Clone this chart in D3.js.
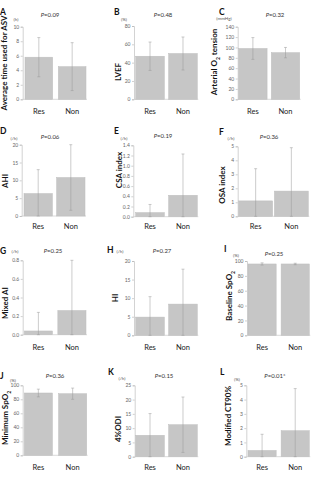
<!DOCTYPE html>
<html><head><meta charset="utf-8">
<script src="https://cdn.jsdelivr.net/npm/d3@7"></script>
<style>body{margin:0;background:#fff}svg{display:block}</style>
</head><body>
<svg id="c" width="311" height="479"></svg>
<script>
const categories = ["Res", "Non"];
const panelIds = ["A","B","C","D","E","F","G","H","I","J","K","L"];
const yLabels = ["Average time used for ASV","LVEF","Arterial O|2| tension","AHI","CSA index","OSA index","Mixed AI","HI","Baseline SpO|2|","Minimum SpO|2|","4%ODI","Modified CT90%"];
const units = ["(h)","(%)","(mmHg)","(/h)","(/h)","(/h)","(/h)","(/h)","(%)","(%)","(/h)","(%)"];
const pValues = ["0.09","0.48","0.32","0.06","0.19","0.36","0.25","0.27","0.25","0.36","0.15","0.01*"];
const resMeans = [5.8, 47, 98, 6.3, 0.08, 1.1, 0.04, 4.9, 96, 89, 7.5, 0.44];
const nonMeans = [4.5, 50, 90, 10.8, 0.42, 1.8, 0.26, 8.4, 96, 88, 11.2, 1.82];
const resSD = [2.7, 15.5, 21, 6.7, 0.16, 2.3, 0.2, 5.5, 1.5, 5.5, 7.6, 1.13];
const nonSD = [3.3, 18, 10, 9.2, 0.81, 3.1, 0.56, 9.4, 1, 8, 9.7, 2.95];
const yMax = [10, 80, 140, 20, 1.4, 5, 0.8, 20, 100, 100, 25, 5];
const tickStep = [2, 20, 20, 5, 0.2, 1, 0.2, 5, 20, 20, 5, 1];
const tickDecimals = [0,0,0,0,1,0,1,0,0,0,0,0];

// layout (pixel geometry per panel)
const layout = [
 {ax:22.7, yTop:26.7, yBot:99.3, b0:25, b1:86, pad:0.17, catY:114, let:[0,15], unit:[16,21], p:[50,17], yl:[7,63]},
 {ax:134, yTop:26, yBot:99.3, b0:135.7, b1:197.3, pad:0.13, catY:114, let:[114,15], unit:[124,21], p:[163,17], yl:[121,72]},
 {ax:237.7, yTop:26.7, yBot:99.3, b0:238.7, b1:299.7, pad:0.13, catY:114, let:[219,15], unit:[224,20], p:[275,17], yl:[217,62]},
 {ax:21.7, yTop:144.7, yBot:216, b0:24, b1:85, pad:0.13, catY:229, let:[0,134], unit:[14,140], p:[50,139], yl:[8,181]},
 {ax:133.3, yTop:145.3, yBot:216.7, b0:135.7, b1:197.3, pad:0.13, catY:229, let:[114,134], unit:[124,140], p:[163,138], yl:[122,170]},
 {ax:237.7, yTop:146.3, yBot:216.3, b0:238.7, b1:308.3, pad:0.05, catY:229, let:[219,135], unit:[231,140], p:[269,139], yl:[225,185]},
 {ax:22.7, yTop:260.3, yBot:334.7, b0:24.3, b1:86, pad:0.16, catY:350, let:[0,254], unit:[15,253], p:[53,253], yl:[8,303]},
 {ax:134, yTop:261, yBot:335.3, b0:135.7, b1:197.3, pad:0.13, catY:350, let:[107,253], unit:[120,253], p:[162,253], yl:[118,298]},
 {ax:247, yTop:261, yBot:335.3, b0:248, b1:309.3, pad:0.15, catY:350, let:[224,252], unit:[236,257], p:[274,256], yl:[232,296]},
 {ax:22.7, yTop:385.3, yBot:455.3, b0:24.3, b1:86.7, pad:0.18, catY:470, let:[0,379], unit:[13,382], p:[55,378], yl:[8,418]},
 {ax:134.7, yTop:385.3, yBot:456.7, b0:135.7, b1:197.3, pad:0.13, catY:470, let:[108,375], unit:[122,380], p:[164,378], yl:[121,429]},
 {ax:246.3, yTop:385.3, yBot:456.7, b0:248, b1:309.3, pad:0.15, catY:470, let:[220,375], unit:[237,381], p:[275,378], yl:[231,416]}
];

const FONT = "Lato, 'Open Sans', sans-serif";
const svg = d3.select("#c");

panelIds.forEach((id, i) => {
  const L = layout[i];
  const g = svg.append("g");
  const y = d3.scaleLinear().domain([0, yMax[i]]).range([L.yBot, L.yTop]).clamp(true);
  const x = d3.scaleBand().domain(categories).range([L.b0, L.b1]).paddingInner(L.pad).paddingOuter(0);
  const ticks = d3.range(0, yMax[i] + tickStep[i]/2, tickStep[i]);

  // y axis
  const axis = d3.axisLeft(y).tickValues(ticks).tickSize(2).tickPadding(1.5)
      .tickFormat(d3.format("." + tickDecimals[i] + "f"));
  const ag = g.append("g").attr("transform", `translate(${L.ax},0)`).call(axis);
  ag.select(".domain").attr("stroke", "#c8c8c8").attr("stroke-width", 0.8);
  ag.selectAll(".tick line").attr("stroke", "#b0b0b0").attr("stroke-width", 0.6);
  ag.selectAll(".tick text").attr("font-size", 5).attr("fill", "#666").attr("font-family", FONT);

  // baseline
  g.append("line").attr("x1", L.ax).attr("x2", L.b1 + 1).attr("y1", L.yBot).attr("y2", L.yBot)
    .attr("stroke", "#d0d0d0").attr("stroke-width", 0.8);

  const means = [resMeans[i], nonMeans[i]];
  const sds = [resSD[i], nonSD[i]];
  categories.forEach((c, k) => {
    g.append("rect").attr("x", x(c)).attr("width", x.bandwidth())
      .attr("y", y(means[k])).attr("height", y(0) - y(means[k]))
      .attr("fill", "#c6c6c6").attr("stroke", "#bdbdbd").attr("stroke-width", 0.5);
    const cx = x(c) + x.bandwidth()/2;
    const lo = y(means[k] - sds[k]), hi = y(means[k] + sds[k]);
    g.append("line").attr("x1", cx).attr("x2", cx).attr("y1", lo).attr("y2", hi)
      .attr("stroke", "#999").attr("stroke-width", 0.5);
    [lo, hi].forEach(v => g.append("line").attr("x1", cx - 1.5).attr("x2", cx + 1.5).attr("y1", v).attr("y2", v)
      .attr("stroke", "#999").attr("stroke-width", 0.5));
    g.append("text").attr("x", cx).attr("y", L.catY).attr("text-anchor", "middle")
      .attr("font-size", 7.5).attr("font-family", FONT).attr("fill", "#222").text(c);
  });

  // panel letter
  g.append("text").attr("x", L.let[0]).attr("y", L.let[1]).attr("font-size", 8.5).attr("font-weight", "bold")
    .attr("font-family", FONT).attr("fill", "#111").text(id);
  // unit
  g.append("text").attr("x", L.unit[0]).attr("y", L.unit[1]).attr("text-anchor", "middle").attr("font-size", 4.5)
    .attr("font-family", FONT).attr("fill", "#555").text(units[i]);
  // p value
  const pt = g.append("text").attr("x", L.p[0]).attr("y", L.p[1]).attr("text-anchor", "middle").attr("font-size", 6)
    .attr("font-family", FONT).attr("fill", "#333");
  pt.append("tspan").attr("font-style", "italic").text("P");
  pt.append("tspan").text("=" + pValues[i]);
  // y label
  const yl = g.append("text").attr("transform", `translate(${L.yl[0]},${L.yl[1]}) rotate(-90)`)
    .attr("text-anchor", "middle").attr("font-size", 8).attr("font-weight", "bold")
    .attr("font-family", FONT).attr("fill", "#111");
  yLabels[i].split("|").forEach((part, k) => {
    const t = yl.append("tspan").text(part);
    if (k % 2 === 1) t.attr("font-size", 5).attr("baseline-shift", "sub");
  });
});
</script>
</body></html>
